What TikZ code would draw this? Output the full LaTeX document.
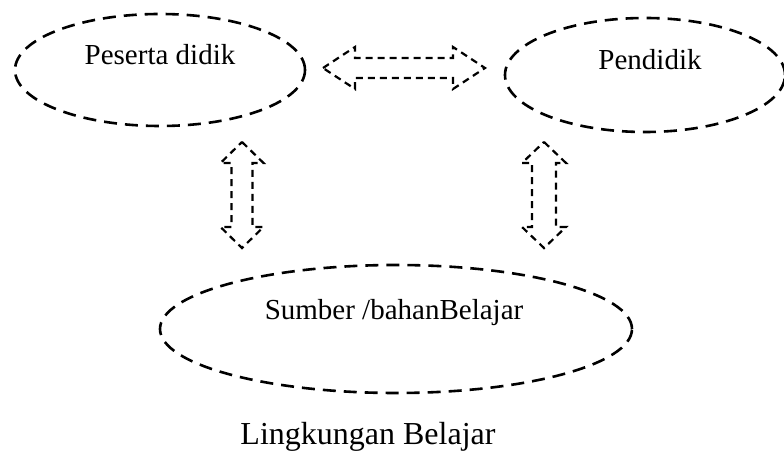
\documentclass[tikz,border=0pt]{standalone}
\usepackage{fontspec}
\setmainfont{Liberation Serif}
\usetikzlibrary{shapes.geometric}

\tikzset{
    blob/.style={draw, ellipse, line width=1.3pt, dash pattern=on 6.5pt off 4pt, inner sep=0pt},
    blobtext/.style={anchor=base, font=\fontsize{14.5}{17}\selectfont},
    dblarrow/.style={draw, line width=1.1pt, dash pattern=on 3.5pt off 2.5pt},
}

\begin{document}
\begin{tikzpicture}[x=0.5pt, y=0.5pt]
    \useasboundingbox (0,0) rectangle (784,455);
    % ellipses
    \node[blob, minimum width=145pt, minimum height=56pt] (peserta) at (160,385) {};
    \node[blob, minimum width=140pt, minimum height=57pt] (pendidik) at (645,380) {};
    \node[blob, minimum width=236pt, minimum height=64pt] (sumber) at (396,126) {};
    \node[blobtext] (pesertatxt) at (160,390) {Peserta didik};
    \node[blobtext] (pendidiktxt) at (650,385) {Pendidik};
    \node[blobtext] (sumbertxt) at (394,135) {Sumber /bahanBelajar};
    \node[anchor=base, font=\fontsize{16}{19}\selectfont] (lingkungan) at (368,10) {Lingkungan Belajar};
    % arrows
    \coordinate (arrowtop) at (404,387);
    \coordinate (arrowleft) at (242,260);
    \coordinate (arrowright) at (544,260);
    \draw[dblarrow, shift={(arrowtop)}] (-81,0) -- (-49,21) -- (-49,10) -- (49,10) -- (49,21)
        -- (81,0) -- (49,-21) -- (49,-10) -- (-49,-10) -- (-49,-21) -- cycle;
    \draw[dblarrow, shift={(arrowleft)}] (0,53) -- (21.5,32) -- (10.5,32) -- (10.5,-32) -- (21.5,-32)
        -- (0,-53) -- (-21.5,-32) -- (-10.5,-32) -- (-10.5,32) -- (-21.5,32) -- cycle;
    \draw[dblarrow, shift={(arrowright)}] (0,53) -- (22,32) -- (12,32) -- (12,-32) -- (22,-32)
        -- (0,-53) -- (-22,-32) -- (-12,-32) -- (-12,32) -- (-22,32) -- cycle;
\end{tikzpicture}
\end{document}
